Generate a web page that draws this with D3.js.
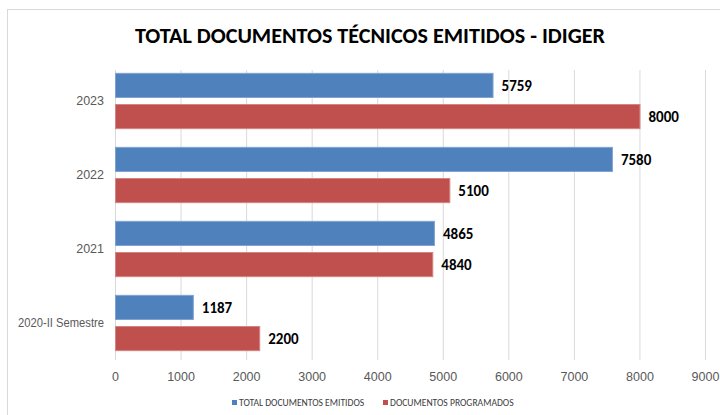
<!DOCTYPE html>
<html><head><meta charset="utf-8">
<script src="https://cdn.jsdelivr.net/npm/d3@7"></script>
<style>body{margin:0;background:#fff;}svg{display:block;font-family:Carlito,Lato,"Open Sans",sans-serif;}</style>
</head><body>
<script>
const categories = ["2023", "2022", "2021", "2020-II Semestre"];
const seriesNames = ["TOTAL DOCUMENTOS EMITIDOS", "DOCUMENTOS PROGRAMADOS"];
const emitidos = [5759, 7580, 4865, 1187];
const programados = [8000, 5100, 4840, 2200];
const xTicks = [0, 1000, 2000, 3000, 4000, 5000, 6000, 7000, 8000, 9000];
const colors = ["#4F81BD", "#C0504D"];
const strokes = ["#7FA3D1", "#D48482"];
const title = "TOTAL DOCUMENTOS TÉCNICOS EMITIDOS - IDIGER";

const W = 720, H = 415;
const svg = d3.select("body").append("svg").attr("width", W).attr("height", H);

// chart border
svg.append("rect").attr("x", 7.5).attr("y", 9.5).attr("width", 730).attr("height", 430)
  .attr("fill", "#fff").attr("stroke", "#d9d9d9").attr("stroke-width", 1);

svg.append("text").attr("x", 370).attr("y", 43).attr("text-anchor", "middle")
  .attr("font-size", 22).attr("font-weight", "bold").attr("fill", "#000")
  .attr("textLength", 470).attr("lengthAdjust", "spacingAndGlyphs").text(title);

const x = d3.scaleLinear().domain([0, 9000]).range([115, 705]);
const y = d3.scaleBand().domain(categories).range([64, 360]).paddingInner(0).paddingOuter(0);
// step 31, bar 24, gap 7, outer 9.5 within a 74 px band
const sub = d3.scaleBand().domain([0, 1]).range([0, y.bandwidth()]).paddingInner(7 / 31).paddingOuter(0.3);

// gridlines
svg.append("g").selectAll("line").data(xTicks).join("line")
  .attr("x1", d => x(d) + 0.5).attr("x2", d => x(d) + 0.5)
  .attr("y1", 70).attr("y2", 360)
  .attr("stroke", "#d9d9d9").attr("stroke-width", 1);

// x axis labels
const xAxis = d3.axisBottom(x).tickValues(xTicks).tickSize(0).tickPadding(0).tickFormat(d3.format("d"));
const gx = svg.append("g").attr("transform", "translate(0,373)").call(xAxis);
gx.select(".domain").remove();
gx.selectAll("text").attr("font-size", 12.5).attr("fill", "#595959").attr("font-family", null).attr("dy", "0.6em");

// y axis labels
const yAxis = d3.axisLeft(y).tickSize(0).tickPadding(0);
const gy = svg.append("g").attr("transform", "translate(104,0)").call(yAxis);
gy.select(".domain").remove();
gy.selectAll("text").attr("font-size", 12.5).attr("fill", "#595959").attr("font-family", null)
  .attr("textLength", d => d.length > 6 ? 86 : null).attr("lengthAdjust", "spacingAndGlyphs");

const rows = categories.map((c, i) => ({c, vals: [emitidos[i], programados[i]]}));
const g = svg.append("g");
rows.forEach(r => {
  r.vals.forEach((v, s) => {
    const yy = y(r.c) + sub(s);
    g.append("rect").attr("x", x(0) + 0.5).attr("y", yy)
      .attr("width", x(v) - x(0)).attr("height", sub.bandwidth())
      .attr("fill", colors[s]).attr("stroke", strokes[s]).attr("stroke-width", 1);
    g.append("text").attr("x", x(v) + 9).attr("y", yy + sub.bandwidth() / 2)
      .attr("dy", "0.35em").attr("font-size", 15).attr("font-weight", "bold").attr("fill", "#000")
      .text(v);
  });
});

// legend
const legendItems = [{x: 232, t: seriesNames[0], c: colors[0]}, {x: 383, t: seriesNames[1], c: colors[1]}];
const lg = svg.append("g");
legendItems.forEach(d => {
  lg.append("rect").attr("x", d.x).attr("y", 400).attr("width", 5).attr("height", 5).attr("fill", d.c);
  lg.append("text").attr("x", d.x + 7).attr("y", 403).attr("dy", "0.35em")
    .attr("font-size", 9.6).attr("fill", "#404040").text(d.t);
});
</script>
</body></html>
